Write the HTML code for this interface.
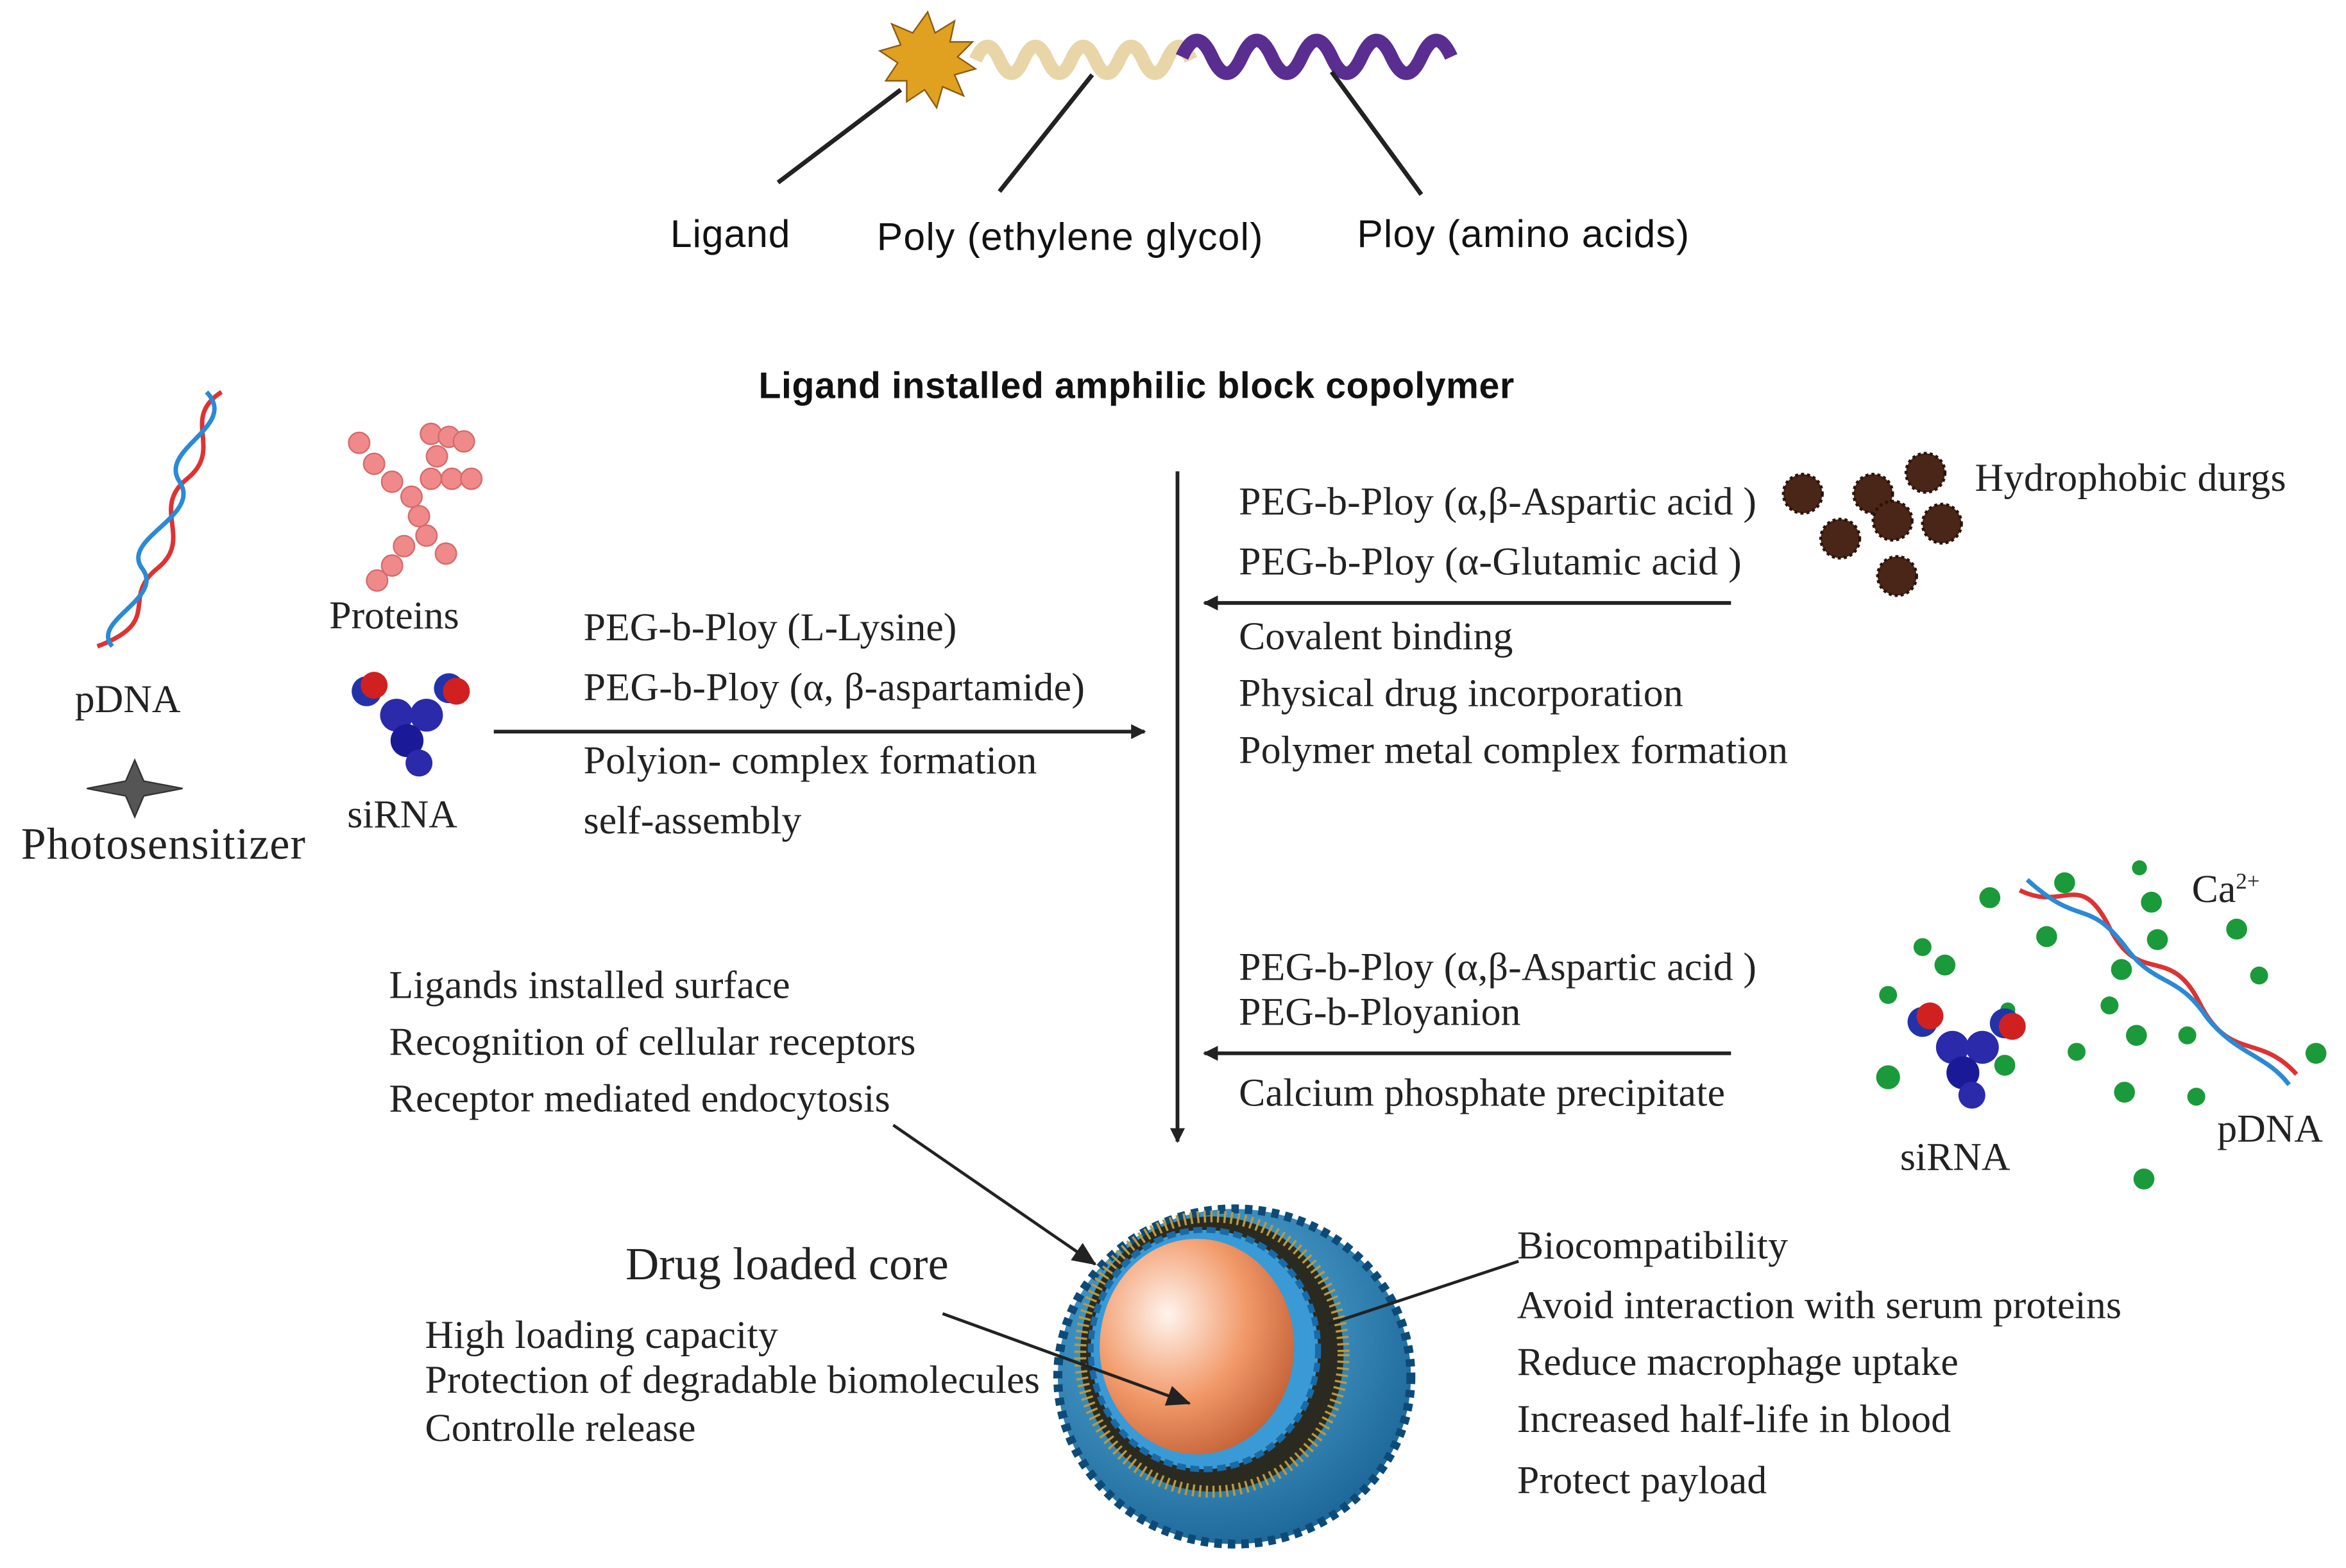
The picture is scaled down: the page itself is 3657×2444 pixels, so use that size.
<!DOCTYPE html>
<html><head><meta charset="utf-8"><style>
html,body{margin:0;padding:0;background:#fff;}
svg{display:block;}
.s{font-family:"Liberation Sans",sans-serif;font-size:26px;fill:#111;}
.r{font-family:"Liberation Serif",serif;font-size:26.5px;fill:#222;}
</style></head><body>
<svg width="3657" height="2444" viewBox="0 0 1568 1048" xmlns="http://www.w3.org/2000/svg">
<defs>
<marker id="a" markerWidth="10" markerHeight="10" refX="9" refY="5" orient="auto" markerUnits="userSpaceOnUse"><path d="M0,0 L10,5 L0,10 z" fill="#222"/></marker>
<marker id="b" markerWidth="16" markerHeight="14" refX="15" refY="7" orient="auto" markerUnits="userSpaceOnUse"><path d="M0,0 L16,7 L0,14 z" fill="#222"/></marker>
<radialGradient id="core" cx="0.35" cy="0.35" r="0.8"><stop offset="0" stop-color="#fff4ee"/><stop offset="0.5" stop-color="#f29a6a"/><stop offset="1" stop-color="#b8532a"/></radialGradient>
<radialGradient id="shell" cx="0.4" cy="0.35" r="0.8"><stop offset="0" stop-color="#5fb6e6"/><stop offset="1" stop-color="#115a8a"/></radialGradient>
</defs>
<g fill="#e0a020" stroke="#8a5a10" stroke-width="1">
<polygon points="620,8 625,22 638,14 635,28 650,28 640,38 652,46 638,50 644,64 630,58 626,72 618,60 606,68 606,54 592,54 600,42 588,34 602,30 596,16 610,22"/>
</g>
<path d="M652,40 q8,-18 16,0 t16,0 t16,0 t16,0 t16,0 t16,0 t16,0 t16,0 t16,0" fill="none" stroke="#e8d6a8" stroke-width="9"/>
<path d="M790,38 q10,-22 20,0 t20,0 t20,0 t20,0 t20,0 t20,0 t20,0 t20,0 t20,0" fill="none" stroke="#5a2d91" stroke-width="9"/>
<line x1="602" y1="60" x2="520" y2="122" stroke="#222" stroke-width="3"/>
<line x1="730" y1="50" x2="668" y2="128" stroke="#222" stroke-width="3"/>
<line x1="890" y1="48" x2="950" y2="130" stroke="#222" stroke-width="3"/>
<text class="s" x="448" y="165" textLength="80">Ligand</text>
<text class="s" x="586" y="167" textLength="258">Poly (ethylene glycol)</text>
<text class="s" x="907" y="165" textLength="222">Ploy (amino acids)</text>
<text class="s" x="507" y="266" style="font-weight:bold;font-size:24.5px" textLength="505">Ligand installed amphilic block copolymer</text>
<line x1="787" y1="315" x2="787" y2="763" stroke="#222" stroke-width="2.5" marker-end="url(#a)"/>
<path d="M148,262 C120,280 150,300 125,320 C100,340 130,360 105,380 C80,400 110,415 65,432" fill="none" stroke="#d33" stroke-width="3"/>
<path d="M138,262 C160,285 105,300 120,322 C135,345 80,360 95,380 C110,400 60,415 75,432" fill="none" stroke="#2a8ad6" stroke-width="3"/>
<text class="r" x="50" y="476">pDNA</text>
<g fill="#f08a8a" stroke="#d46a6a" stroke-width="1">
<circle cx="240" cy="296" r="7"/><circle cx="250" cy="310" r="7"/><circle cx="262" cy="322" r="7"/><circle cx="275" cy="332" r="7"/>
<circle cx="288" cy="290" r="7"/><circle cx="300" cy="292" r="7"/><circle cx="292" cy="305" r="7"/><circle cx="288" cy="320" r="7"/>
<circle cx="302" cy="320" r="7"/><circle cx="315" cy="320" r="7"/><circle cx="280" cy="345" r="7"/><circle cx="285" cy="358" r="7"/>
<circle cx="298" cy="370" r="7"/><circle cx="270" cy="365" r="7"/><circle cx="262" cy="378" r="7"/><circle cx="252" cy="388" r="7"/><circle cx="310" cy="295" r="7"/>
</g>
<text class="r" x="220" y="420">Proteins</text>
<g><circle cx="245" cy="462" r="10" fill="#2233aa"/><circle cx="250" cy="458" r="9" fill="#d02020"/><circle cx="300" cy="460" r="10" fill="#2233aa"/><circle cx="305" cy="462" r="9" fill="#d02020"/>
<circle cx="265" cy="478" r="11" fill="#2a2aaa"/><circle cx="285" cy="478" r="11" fill="#2a2aaa"/><circle cx="272" cy="495" r="11" fill="#1a1a99"/><circle cx="280" cy="510" r="9" fill="#2a2aaa"/></g>
<text class="r" x="232" y="553">siRNA</text>
<path d="M90,508 L96,522 L122,527 L96,532 L90,546 L84,532 L58,527 L84,522 z" fill="#555" stroke="#333"/>
<text class="r" x="14" y="574" style="font-size:30px" textLength="190">Photosensitizer</text>
<line x1="330" y1="489" x2="765" y2="489" stroke="#222" stroke-width="2.5" marker-end="url(#a)"/>
<text class="r" x="390" y="428">PEG-b-Ploy (L-Lysine)</text>
<text class="r" x="390" y="468" textLength="335">PEG-b-Ploy (α, β-aspartamide)</text>
<text class="r" x="390" y="517" textLength="303">Polyion- complex formation</text>
<text class="r" x="390" y="557">self-assembly</text>
<text class="r" x="828" y="344" textLength="346">PEG-b-Ploy (α,β-Aspartic acid )</text>
<text class="r" x="828" y="384" textLength="336">PEG-b-Ploy (α-Glutamic acid )</text>
<line x1="1157" y1="403" x2="805" y2="403" stroke="#222" stroke-width="2.5" marker-end="url(#a)"/>
<text class="r" x="828" y="434">Covalent binding</text>
<text class="r" x="828" y="472" textLength="297">Physical drug incorporation</text>
<text class="r" x="828" y="510" textLength="367">Polymer metal complex formation</text>
<g fill="#4a2618" stroke="#2a130a" stroke-width="2" stroke-dasharray="2 2">
<circle cx="1205" cy="330" r="13"/><circle cx="1252" cy="330" r="13"/><circle cx="1287" cy="316" r="13"/><circle cx="1230" cy="360" r="13"/><circle cx="1265" cy="348" r="13"/><circle cx="1298" cy="350" r="13"/><circle cx="1268" cy="385" r="13"/></g>
<text class="r" x="1320" y="328" textLength="208">Hydrophobic durgs</text>
<text class="r" x="828" y="655" textLength="346">PEG-b-Ploy (α,β-Aspartic acid )</text>
<text class="r" x="828" y="685">PEG-b-Ployanion</text>
<line x1="1157" y1="704" x2="805" y2="704" stroke="#222" stroke-width="2.5" marker-end="url(#a)"/>
<text class="r" x="828" y="739" textLength="325">Calcium phosphate precipitate</text>
<g fill="#1a9a3a">
<circle cx="1330" cy="600" r="7"/><circle cx="1380" cy="590" r="7"/><circle cx="1430" cy="580" r="5"/><circle cx="1438" cy="603" r="7"/><circle cx="1368" cy="626" r="7"/><circle cx="1442" cy="628" r="7"/><circle cx="1495" cy="621" r="7"/>
<circle cx="1285" cy="633" r="6"/><circle cx="1300" cy="645" r="7"/><circle cx="1262" cy="665" r="6"/><circle cx="1418" cy="648" r="7"/><circle cx="1510" cy="652" r="6"/><circle cx="1410" cy="672" r="6"/><circle cx="1428" cy="692" r="7"/>
<circle cx="1388" cy="703" r="6"/><circle cx="1462" cy="692" r="6"/><circle cx="1548" cy="704" r="7"/><circle cx="1262" cy="720" r="8"/><circle cx="1340" cy="712" r="7"/><circle cx="1420" cy="730" r="7"/><circle cx="1468" cy="733" r="6"/><circle cx="1433" cy="788" r="7"/><circle cx="1342" cy="675" r="5"/></g>
<path d="M1350,595 C1380,610 1390,580 1410,620 C1430,660 1450,630 1470,670 C1490,710 1510,690 1535,718" fill="none" stroke="#d33" stroke-width="3"/>
<path d="M1355,588 C1390,620 1395,600 1420,632 C1440,660 1455,650 1475,680 C1495,705 1515,705 1530,725" fill="none" stroke="#2a8ad6" stroke-width="3"/>
<g><circle cx="1285" cy="683" r="10" fill="#2233aa"/><circle cx="1290" cy="679" r="9" fill="#d02020"/><circle cx="1340" cy="684" r="10" fill="#2233aa"/><circle cx="1345" cy="686" r="9" fill="#d02020"/>
<circle cx="1305" cy="700" r="11" fill="#2a2aaa"/><circle cx="1325" cy="700" r="11" fill="#2a2aaa"/><circle cx="1312" cy="717" r="11" fill="#1a1a99"/><circle cx="1318" cy="732" r="9" fill="#2a2aaa"/></g>
<text class="r" x="1465" y="603">Ca<tspan style="font-size:15px" dy="-9">2+</tspan></text>
<text class="r" x="1270" y="782">siRNA</text>
<text class="r" x="1482" y="763">pDNA</text>
<text class="r" x="260" y="667" textLength="268">Ligands installed surface</text>
<text class="r" x="260" y="705" textLength="352">Recognition of cellular receptors</text>
<text class="r" x="260" y="743" textLength="335">Receptor mediated endocytosis</text>
<line x1="597" y1="752" x2="732" y2="845" stroke="#222" stroke-width="2" marker-end="url(#b)"/>
<text class="r" x="418" y="855" style="font-size:31px" textLength="216">Drug loaded core</text>
<text class="r" x="284" y="901" textLength="236">High loading capacity</text>
<text class="r" x="284" y="931" textLength="411">Protection of degradable biomolecules</text>
<text class="r" x="284" y="963" textLength="181">Controlle release</text>
<ellipse cx="825" cy="920" rx="118" ry="112" fill="url(#shell)"/>
<ellipse cx="825" cy="920" rx="118" ry="112" fill="none" stroke="#0d4a78" stroke-width="6" stroke-dasharray="5 4"/>
<ellipse cx="810" cy="905" rx="88" ry="92" fill="#2a2a20"/>
<ellipse cx="810" cy="905" rx="88" ry="92" fill="none" stroke="#b89a40" stroke-width="8" stroke-dasharray="1.5 3"/>
<ellipse cx="805" cy="902" rx="76" ry="80" fill="#3a9ad6" stroke="#1a6aa6" stroke-width="4" stroke-dasharray="6 3"/>
<ellipse cx="800" cy="900" rx="65" ry="72" fill="url(#core)"/>
<line x1="630" y1="878" x2="795" y2="938" stroke="#222" stroke-width="2" marker-end="url(#b)"/>
<line x1="1015" y1="843" x2="888" y2="885" stroke="#222" stroke-width="2"/>
<text class="r" x="1014" y="841" textLength="181">Biocompatibility</text>
<text class="r" x="1014" y="881" textLength="404">Avoid interaction with serum proteins</text>
<text class="r" x="1014" y="919" textLength="295">Reduce macrophage uptake</text>
<text class="r" x="1014" y="957" textLength="290">Increased half-life in blood</text>
<text class="r" x="1014" y="998" textLength="167">Protect payload</text>
</svg>
</body></html>
